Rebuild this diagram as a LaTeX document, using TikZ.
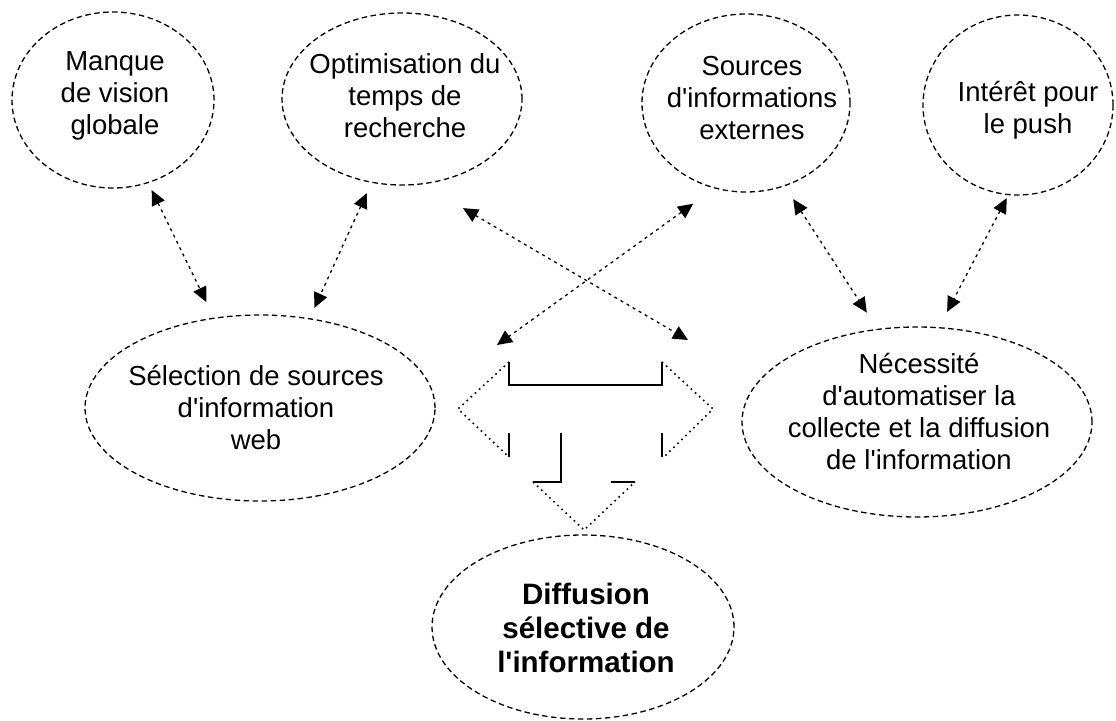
\documentclass[tikz,border=0pt]{standalone}
\usepackage{fontspec}
\setmainfont{Liberation Sans}[Ligatures=TeXOff]
\usetikzlibrary{arrows.meta,shapes.geometric}
\begin{document}
\begin{tikzpicture}[x=1pt,y=-1pt,
  bubble/.style={ellipse,draw,line width=1.3pt,dash pattern=on 5.5pt off 3.5pt,
    inner sep=0pt,outer sep=0pt},
  label text/.style={align=center,inner sep=0pt,
    font=\fontsize{27.5}{32}\selectfont},
  bold text/.style={align=center,inner sep=0pt,
    font=\fontsize{29.5}{34}\selectfont\bfseries},
  link/.style={line width=1.3pt,dash pattern=on 3pt off 4pt,
    {Triangle[length=15pt,width=14pt]}-{Triangle[length=15pt,width=14pt]}},
  blocksolid/.style={line width=1.6pt},
  blockdot/.style={line width=1.6pt,dash pattern=on 1.6pt off 4pt}]
\useasboundingbox (0,0) rectangle (1116,720);

% ellipses
\node[bubble,minimum width=202pt,minimum height=176pt] (manque) at (113,100) {};
\node[bubble,minimum width=240pt,minimum height=172pt] (optim) at (402,99) {};
\node[bubble,minimum width=208pt,minimum height=178pt] (sources) at (746,103) {};
\node[bubble,minimum width=190pt,minimum height=180pt] (interet) at (1018,105) {};
\node[bubble,minimum width=350pt,minimum height=186pt] (selection) at (260,408) {};
\node[bubble,minimum width=350pt,minimum height=190pt] (necessite) at (917,422) {};
\node[bubble,minimum width=302pt,minimum height=184pt] (diffusion) at (583,627) {};

% texts inside the ellipses
\node[label text] (manqueT) at (115,96) {Manque\\de vision\\globale};
\node[label text] (optimT) at (405,96) {Optimisation du\\temps de\\recherche};
\node[label text] (sourcesT) at (752,98) {Sources\\d'informations\\externes};
\node[label text] (interetT) at (1028,110) {Intérêt pour\\le push};
\node[label text] (selectionT) at (256,408) {Sélection de sources\\d'information\\web};
\node[label text] (necessiteT) at (919,412) {Nécessité\\d'automatiser la\\collecte et la diffusion\\de l'information};
\node[bold text] (diffusionT) at (586,628) {Diffusion\\sélective de\\l'information};

% block arrow (left/right and down)
\coordinate (bTL) at (509,362);
\coordinate (bTR) at (662,362);
\coordinate (bLt) at (458,409);
\coordinate (bRt) at (713,409);
\coordinate (bLb) at (509,457);
\coordinate (bRb) at (665,456);
\coordinate (bDt) at (584,530);
\coordinate (bDl) at (533,482);
\coordinate (bDr) at (635,482);
\draw[blocksolid] (bTL) -- (509,385) -- (662,385) -- (bTR);
\draw[blocksolid] (509,433) -- (509,457);
\draw[blocksolid] (662,433) -- (662,457);
\draw[blocksolid] (561,433) -- (561,482) -- (bDl);
\draw[blocksolid] (611,482) -- (bDr);
\draw[blockdot] (bTL) -- (bLt) -- (bLb);
\draw[blockdot] (bTR) -- (bRt) -- (bRb);
\draw[blockdot] (bDl) -- (bDt) -- (bDr);

% end points of the crossing links at the block arrow
\coordinate (cR) at (688,340);
\coordinate (cL) at (497,345);

% links
\draw[link,shorten <=8.4pt,shorten >=18pt] (manque.293.3) -- (selection.117.8);
\draw[link,shorten <=12pt,shorten >=12pt] (optim.250.2) -- (selection.61.8);
\draw[link,shorten <=48pt] (optim.283.7) -- (cR);
\draw[link,shorten <=27pt] (sources.250.9) -- (cL);
\draw[link,shorten <=16pt,shorten >=20pt] (sources.295.2) -- (necessite.113.1);
\draw[link,shorten <=4pt,shorten >=18pt] (interet.264.8) -- (necessite.77.1);
\end{tikzpicture}
\end{document}
